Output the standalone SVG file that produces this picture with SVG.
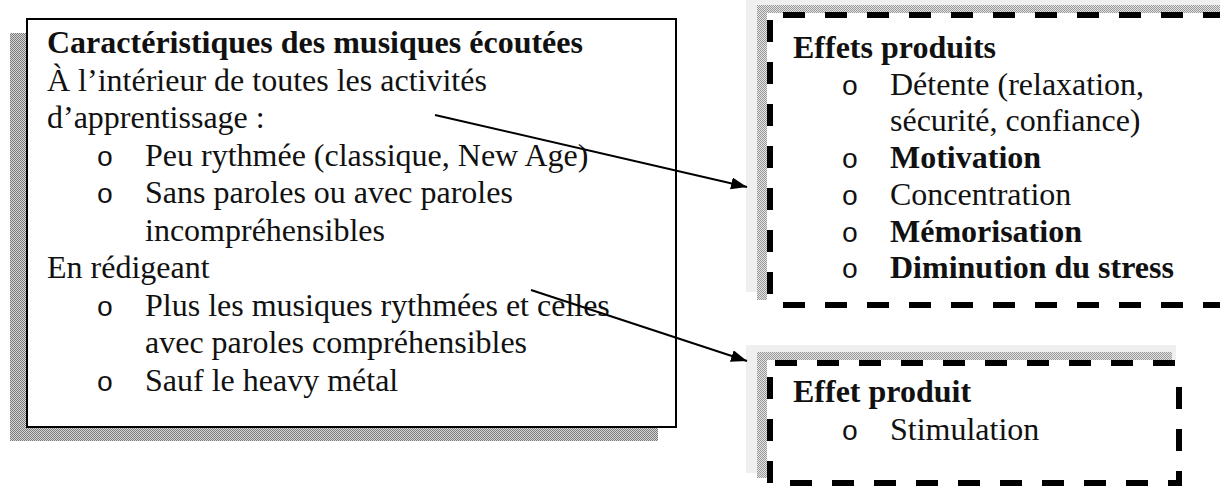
<svg xmlns="http://www.w3.org/2000/svg" width="1220" height="490" viewBox="0 0 1220 490">
<style>
  .t { font-family: 'Liberation Serif', 'DejaVu Serif', serif; font-size: 32px; fill: #111; }
  .b { font-weight: bold; }
  .bul { font-family: 'Liberation Mono', 'DejaVu Sans Mono', monospace; font-size: 28px; text-anchor: middle; fill: #111; }
  .dash { stroke: #000; stroke-width: 6; fill: none; stroke-dasharray: 22 20; }
  .conn { stroke: #000; stroke-width: 2; fill: none; marker-end: url(#ah); }
</style>
<defs>
  <pattern id="chk" width="2" height="2" patternUnits="userSpaceOnUse">
    <rect width="2" height="2" fill="#d6d6d6"/>
    <rect width="1" height="1" fill="#7a7a7a"/>
    <rect x="1" y="1" width="1" height="1" fill="#7a7a7a"/>
  </pattern>
  <pattern id="chk2" width="2" height="2" patternUnits="userSpaceOnUse">
    <rect width="2" height="2" fill="#e2e2e2"/>
    <rect width="1" height="1" fill="#9a9a9a"/>
    <rect x="1" y="1" width="1" height="1" fill="#9a9a9a"/>
  </pattern>
  <marker id="ah" markerUnits="userSpaceOnUse" markerWidth="18" markerHeight="14" refX="16" refY="6" orient="auto">
    <path d="M0,0 L16,6 L0,12 z" fill="#000"/>
  </marker>
</defs>
<rect width="1220" height="490" fill="#fff"/>

<g id="main" font-family="Liberation Serif, serif">
  <rect x="10" y="33" width="648" height="408" fill="url(#chk)"/>
  <rect x="27" y="19" width="649" height="408" fill="#fff" stroke="#000" stroke-width="2"/>
  <text class="t b" x="47" y="53">Caractéristiques des musiques écoutées</text>
  <text class="t" x="47" y="90.5">À l’intérieur de toutes les activités</text>
  <text class="t" x="47" y="128">d’apprentissage :</text>
  <text class="bul" x="105" y="165.5">o</text>
  <text class="t" x="145" y="165.5">Peu rythmée (classique, New Age)</text>
  <text class="bul" x="105" y="203">o</text>
  <text class="t" x="145" y="203">Sans paroles ou avec paroles</text>
  <text class="t" x="145" y="240.5">incompréhensibles</text>
  <text class="t" x="47" y="278">En rédigeant</text>
  <text class="bul" x="105" y="315.5">o</text>
  <text class="t" x="145" y="315.5">Plus les musiques rythmées et celles</text>
  <text class="t" x="145" y="353">avec paroles compréhensibles</text>
  <text class="bul" x="105" y="390.5">o</text>
  <text class="t" x="145" y="390.5">Sauf le heavy métal</text>
</g>

<g id="effets">
  <rect x="746" y="0" width="480" height="292" fill="#efefef"/>
  <rect x="757" y="5" width="470" height="295" fill="url(#chk2)"/>
  <rect x="767" y="13" width="460" height="296" fill="#fff"/>
  <line class="dash" x1="783" y1="15" x2="1225" y2="15"/>
  <line class="dash" x1="770" y1="20" x2="770" y2="300"/>
  <line class="dash" x1="783" y1="305" x2="1225" y2="305"/>
  <text class="t b" x="793" y="58">Effets produits</text>
  <text class="bul" x="850" y="94.7">o</text>
  <text class="t" x="890" y="94.7">Détente (relaxation,</text>
  <text class="t" x="890" y="131.4">sécurité, confiance)</text>
  <text class="bul" x="850" y="168">o</text>
  <text class="t b" x="890" y="168">Motivation</text>
  <text class="bul" x="850" y="204.8">o</text>
  <text class="t" x="890" y="204.8">Concentration</text>
  <text class="bul" x="850" y="241.5">o</text>
  <text class="t b" x="890" y="241.5">Mémorisation</text>
  <text class="bul" x="850" y="278.2">o</text>
  <text class="t b" x="890" y="278.2">Diminution du stress</text>
</g>

<g id="effet">
  <rect x="746" y="345" width="430" height="128" fill="#efefef"/>
  <rect x="757" y="352" width="415" height="126" fill="url(#chk2)"/>
  <rect x="767" y="360" width="415" height="126" fill="#fff"/>
  <line class="dash" x1="775" y1="363" x2="1179" y2="363"/>
  <line class="dash" x1="770" y1="377" x2="770" y2="483"/>
  <line class="dash" x1="1179" y1="387" x2="1179" y2="483"/>
  <line class="dash" x1="790" y1="483" x2="1182" y2="483"/>
  <text class="t b" x="793" y="402">Effet produit</text>
  <text class="bul" x="850" y="440">o</text>
  <text class="t" x="890" y="440">Stimulation</text>
</g>

<g id="connectors">
  <line class="conn" x1="435" y1="115" x2="747" y2="187"/>
  <line class="conn" x1="531" y1="290" x2="747" y2="361"/>
</g>
</svg>
